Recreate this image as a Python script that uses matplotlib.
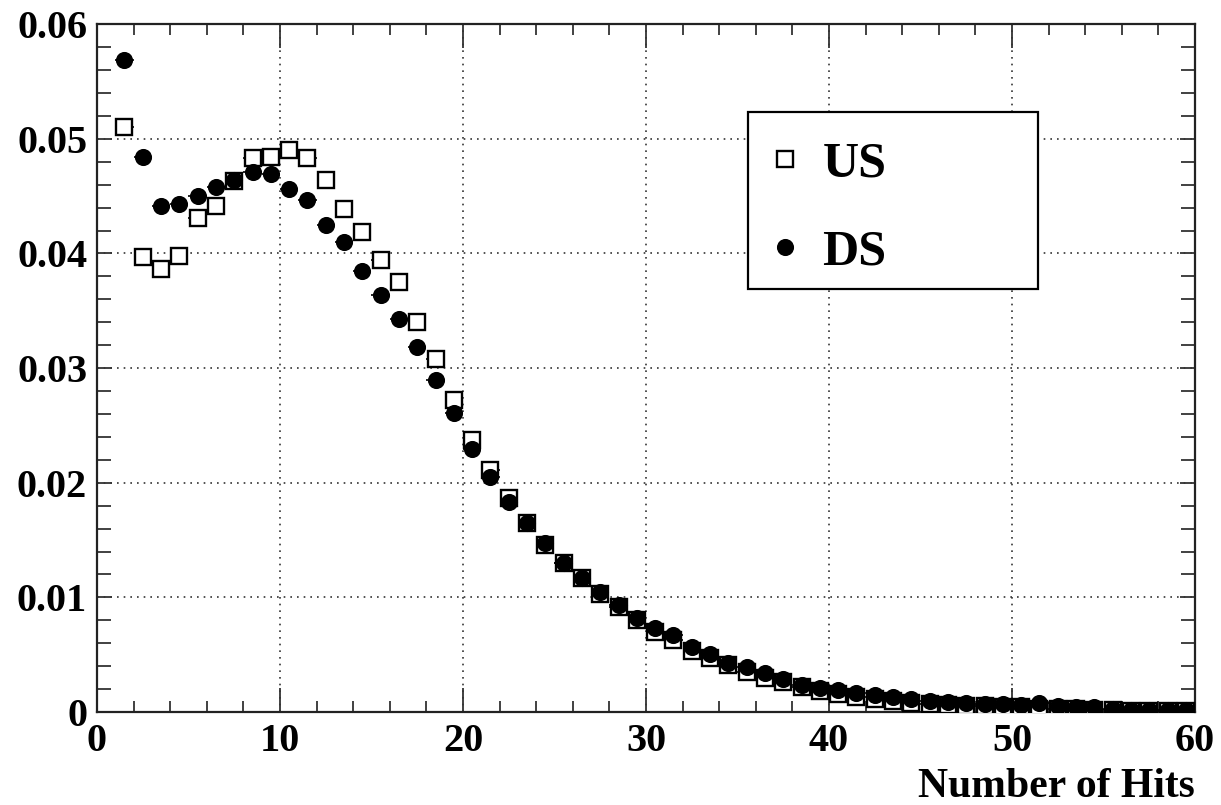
import matplotlib
matplotlib.use("Agg")
import matplotlib.pyplot as plt
from matplotlib.ticker import MultipleLocator, FixedLocator
from matplotlib.lines import Line2D
from matplotlib.patches import Rectangle

# Data (bin centres, normalised fractions)
hits = [i + 0.5 for i in range(1, 60)]
us_vals = [0.0510, 0.0397, 0.0386, 0.0398, 0.0431, 0.0441, 0.0463, 0.0483, 0.0484, 0.0490,
           0.0483, 0.0464, 0.0439, 0.0419, 0.0394, 0.0375, 0.0340, 0.0308, 0.0272, 0.0237,
           0.0211, 0.0187, 0.0165, 0.0146, 0.0130, 0.0117, 0.0103, 0.0092, 0.0080, 0.0070,
           0.0063, 0.0053, 0.0047, 0.0041, 0.0035, 0.0030, 0.0026, 0.0022, 0.0018, 0.0016,
           0.0013, 0.0011, 0.0010, 0.0008, 0.0007, 0.0006, 0.0005, 0.0005, 0.0004, 0.0004,
           0.0003, 0.0003, 0.0003, 0.0002, 0.0002, 0.0001, 0.0001, 0.0001, 0.0001]
ds_vals = [0.0569, 0.0484, 0.0441, 0.0443, 0.0450, 0.0458, 0.0464, 0.0471, 0.0469, 0.0456,
           0.0447, 0.0425, 0.0410, 0.0385, 0.0364, 0.0343, 0.0318, 0.0290, 0.0261, 0.0229,
           0.0205, 0.0183, 0.0165, 0.0147, 0.0130, 0.0117, 0.0105, 0.0093, 0.0082, 0.0073,
           0.0067, 0.0057, 0.0051, 0.0043, 0.0039, 0.0034, 0.0029, 0.0024, 0.0021, 0.0019,
           0.0017, 0.0015, 0.0013, 0.0011, 0.0010, 0.0009, 0.0008, 0.0007, 0.0007, 0.0006,
           0.0008, 0.0005, 0.0004, 0.0004, 0.0003, 0.0002, 0.0002, 0.0002, 0.0002]
x_label = "Number of Hits"
legend_labels = ["US", "DS"]
x_ticks = [0, 10, 20, 30, 40, 50, 60]
y_ticks = [0, 0.01, 0.02, 0.03, 0.04, 0.05, 0.06]
y_tick_labels = ["0", "0.01", "0.02", "0.03", "0.04", "0.05", "0.06"]

plt.rcParams['font.family'] = ['Liberation Serif', 'DejaVu Serif']
plt.rcParams['font.weight'] = 'bold'

fig = plt.figure(figsize=(12.21, 8.05), dpi=100)
ax = fig.add_axes([0.0794, 0.1155, 0.8993, 0.8545])

ax.errorbar(hits, us_vals, xerr=0.5, fmt='s', ms=11.8, mfc='white', mec='black', mew=1.7,
            ecolor='black', elinewidth=1.2, capsize=0, zorder=3)
ax.errorbar(hits, ds_vals, xerr=0.5, fmt='o', ms=11.3, mfc='black', mec='black', mew=1,
            ecolor='black', elinewidth=1.2, capsize=0, zorder=4)

ax.set_xlim(0, 60)
ax.set_ylim(0, 0.06)
ax.xaxis.set_major_locator(FixedLocator(x_ticks))
ax.xaxis.set_minor_locator(MultipleLocator(2))
ax.yaxis.set_major_locator(FixedLocator(y_ticks))
ax.yaxis.set_minor_locator(MultipleLocator(0.002))
ax.set_yticklabels(y_tick_labels)
ax.set_xticklabels([str(t) for t in x_ticks])

ax.tick_params(axis='both', which='both', direction='in', top=True, right=True,
               width=1.3, color='#333333')
ax.tick_params(axis='x', which='major', length=17, labelsize=29, pad=8)
ax.tick_params(axis='x', which='minor', length=8)
ax.tick_params(axis='y', which='major', length=11, labelsize=29, pad=7)
ax.tick_params(axis='y', which='minor', length=10)
for lbl in ax.get_xticklabels() + ax.get_yticklabels():
    lbl.set_fontweight('bold')

for s in ax.spines.values():
    s.set_linewidth(1.6)
    s.set_color('#222222')

ax.grid(True, which='major', linestyle=(0, (1.0, 3)), color='#333333', linewidth=1.2)
ax.set_axisbelow(True)

ax.set_xlabel(x_label, fontsize=30, fontweight='bold', loc='right', labelpad=6)

# Legend box
ax.add_patch(Rectangle((0.593, 0.615), 0.264, 0.257, transform=ax.transAxes,
                       facecolor='white', edgecolor='black', linewidth=1.6, zorder=5))
handles = [
    Line2D([], [], linestyle='none', marker='s', ms=11.8, mfc='white', mec='black', mew=1.7),
    Line2D([], [], linestyle='none', marker='o', ms=11.3, mfc='black', mec='black'),
]
leg = ax.legend(handles, legend_labels, loc='upper left', bbox_to_anchor=(0.613, 0.830),
                frameon=False, prop={'size': 36, 'weight': 'bold'},
                handlelength=0.6, handletextpad=0.45, labelspacing=0.84,
                borderpad=0, borderaxespad=0)
leg.set_zorder(6)

fig.savefig("out.png", dpi=100)
